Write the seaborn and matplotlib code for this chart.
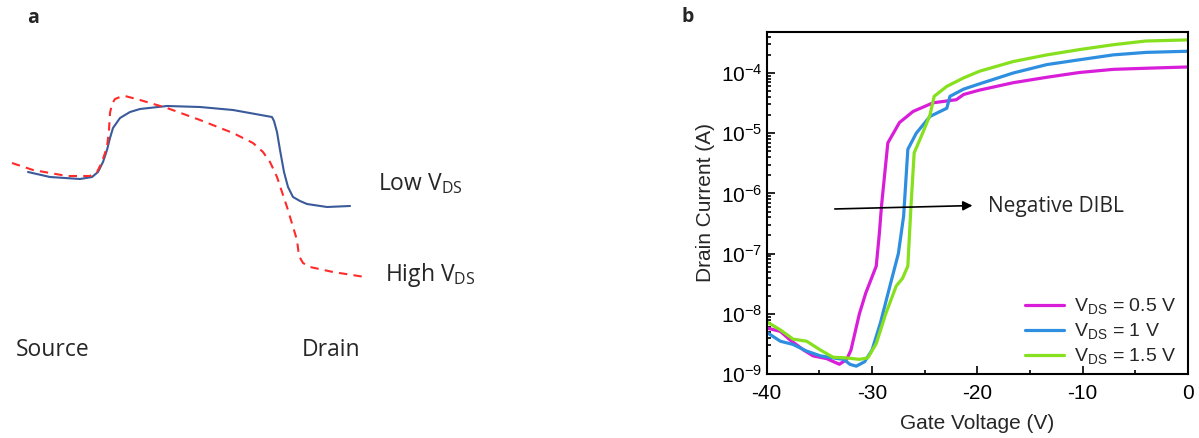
import numpy as np
import pandas as pd
import matplotlib
matplotlib.use("Agg")
import matplotlib.pyplot as plt
import seaborn as sns

sns.set_style("white")
plt.rcParams['font.family'] = ['Liberation Sans', 'DejaVu Sans']
plt.rcParams['axes.unicode_minus'] = False

# ---- panel a: band sketch (coordinates in figure pixels) ----
low_x = [28, 50, 80, 92, 98, 103, 107, 110, 113, 120, 130, 140, 167, 200, 233, 272, 274, 277, 280, 284, 288,
         293, 300, 307, 327, 350]
low_y = [172, 177, 179, 177, 172, 162, 150, 138, 128, 118, 112, 109, 106, 107, 110, 117, 121, 132, 150, 172,
         187, 197, 201, 204, 207, 206]
high_x = [12, 33, 67, 90, 97, 102, 107, 109, 110, 112, 115, 120, 125, 140, 167, 200, 233, 253, 263, 270, 277,
          287, 297, 299, 303, 310, 333, 365]
high_y = [163, 170, 176, 176, 172, 162, 147, 130, 113, 104, 99, 97, 96, 100, 108, 120, 133, 143, 152, 162,
          177, 207, 240, 256, 263, 267, 272, 277]

# ---- panel b: transfer curves ----
vg_05 = [-39.9, -38.7, -37.8, -36.5, -35.6, -34.3, -33.1, -32.4, -32.0, -31.2, -30.6, -29.6, -29.3, -29.1,
         -28.5, -27.4, -26.1, -24.2, -22.0, -21.3, -19.8, -16.6, -13.4, -10.3, -7.1, -4.0, 0.0]
id_05 = [5.75e-9, 5.1e-9, 3.7e-9, 2.5e-9, 2.0e-9, 1.8e-9, 1.45e-9, 1.75e-9, 2.5e-9, 1.0e-8, 2.2e-8, 6.2e-8,
         2.2e-7, 6.2e-7, 6.9e-6, 1.5e-5, 2.3e-5, 3.2e-5, 3.6e-5, 4.4e-5, 5.2e-5, 6.9e-5, 8.5e-5, 1.02e-4,
         1.15e-4, 1.2e-4, 1.26e-4]
vg_10 = [-39.9, -38.7, -37.5, -36.2, -34.9, -33.7, -32.7, -32.1, -31.5, -30.7, -30.0, -29.2, -28.3, -27.5,
         -27.0, -26.6, -25.8, -24.5, -22.9, -22.6, -21.3, -19.8, -16.6, -13.4, -10.3, -7.1, -4.0, 0.0]
id_10 = [4.8e-9, 3.5e-9, 3.1e-9, 2.4e-9, 2.0e-9, 1.85e-9, 1.75e-9, 1.45e-9, 1.35e-9, 1.6e-9, 2.5e-9, 7.1e-9,
         2.9e-8, 1.0e-7, 4.2e-7, 5.4e-6, 1.0e-5, 1.9e-5, 2.6e-5, 4.1e-5, 5.4e-5, 6.6e-5, 1.0e-4, 1.38e-4,
         1.66e-4, 2.0e-4, 2.2e-4, 2.3e-4]
vg_15 = [-39.9, -38.7, -37.5, -36.2, -34.9, -33.7, -32.4, -31.2, -30.4, -29.6, -28.7, -27.7, -27.1, -26.6,
         -26.3, -26.0, -25.2, -24.5, -24.1, -22.9, -21.3, -19.8, -16.6, -13.4, -10.3, -7.1, -4.0, 0.0]
id_15 = [7.2e-9, 5.4e-9, 3.8e-9, 3.5e-9, 2.5e-9, 1.9e-9, 1.85e-9, 1.75e-9, 1.85e-9, 3.2e-9, 1.0e-8, 2.9e-8,
         3.9e-8, 6.2e-8, 6.2e-7, 4.7e-6, 1.0e-5, 2.0e-5, 4.1e-5, 6.0e-5, 8.3e-5, 1.07e-4, 1.55e-4, 2.0e-4,
         2.45e-4, 2.95e-4, 3.4e-4, 3.55e-4]

labels = [r"V$_{\mathregular{DS}}$ = 0.5 V", r"V$_{\mathregular{DS}}$ = 1 V", r"V$_{\mathregular{DS}}$ = 1.5 V"]
colors = ['#d81ed8', '#2e8fe0', '#86e01e']

fig = plt.figure(figsize=(11.99, 4.38), dpi=100)

# panel a
axa = fig.add_axes([0, 0, 600 / 1199, 1])
sns.lineplot(x=low_x, y=low_y, sort=False, color='#3a5a9a', linewidth=1.5, ax=axa)
sns.lineplot(x=high_x, y=high_y, sort=False, color='#ff2a2a', linewidth=1.5, linestyle=(0, (4, 3)), ax=axa)
axa.set_xlim(0, 600)
axa.set_ylim(438, 0)
axa.axis('off')
cal = ['Open Sans', 'DejaVu Sans']
axa.text(33, 18, 'a', fontsize=14, fontweight='bold', ha='center', va='center', family=cal)
axa.text(378, 184, r'Low V$_{\mathregular{DS}}$', fontsize=16.5, va='center', family=cal)
axa.text(385, 275, r'High V$_{\mathregular{DS}}$', fontsize=16.5, va='center', family=cal)
axa.text(16, 350, 'Source', fontsize=16.5, va='center', family=cal)
axa.text(302, 350, 'Drain', fontsize=16.5, va='center', family=cal)
fig.text(688 / 1199, 1 - 17 / 438, 'b', fontsize=14, fontweight='bold', ha='center', va='center', family=cal)

# panel b
axb = fig.add_axes([766.7 / 1199, 1 - 374 / 438, (1188 - 766.7) / 1199, (374 - 32) / 438])
df = pd.concat([
    pd.DataFrame({'vg': vg_05, 'id': id_05, 'vds': labels[0]}),
    pd.DataFrame({'vg': vg_10, 'id': id_10, 'vds': labels[1]}),
    pd.DataFrame({'vg': vg_15, 'id': id_15, 'vds': labels[2]}),
])
sns.lineplot(data=df, x='vg', y='id', hue='vds', palette=colors, linewidth=2.3, estimator=None, ax=axb)
axb.set_yscale('log')
axb.set_xlim(-40, 0)
axb.set_ylim(1e-9, 4.8e-4)
axb.set_xticks([-40, -30, -20, -10, 0])
axb.set_xticks([-35, -25, -15, -5], minor=True)
axb.set_yticks([1e-9, 1e-8, 1e-7, 1e-6, 1e-5, 1e-4])
axb.yaxis.set_minor_locator(matplotlib.ticker.LogLocator(base=10, subs=np.arange(2, 10), numticks=20))
axb.yaxis.set_minor_formatter(matplotlib.ticker.NullFormatter())
axb.tick_params(axis='both', which='both', direction='in', bottom=True, left=True, top=False, right=False,
                width=1.2, colors='black')
axb.tick_params(axis='x', which='major', length=6, labelsize=15, pad=7)
axb.tick_params(axis='y', which='major', length=6, labelsize=15, pad=3)
axb.tick_params(axis='both', which='minor', length=3)
for s in axb.spines.values():
    s.set_linewidth(1.5)
    s.set_color('black')
axb.set_xlabel('Gate Voltage (V)', fontsize=15, labelpad=8)
axb.set_ylabel('Drain Current (A)', fontsize=15, labelpad=4)
axb.annotate('', xy=(-20.2, 6.3e-7), xytext=(-33.8, 5.5e-7),
             arrowprops=dict(arrowstyle='-|>', color='black', lw=1.2, mutation_scale=14))
axb.text(-19.0, 6.0e-7, 'Negative DIBL', fontsize=15, va='center', family=cal)
axb.legend(frameon=False, loc='lower right', bbox_to_anchor=(1.0, -0.015), fontsize=14, handlelength=2.0,
           labelspacing=0.25, borderaxespad=0.2, handletextpad=0.5)

fig.savefig('out.png', dpi=100)
